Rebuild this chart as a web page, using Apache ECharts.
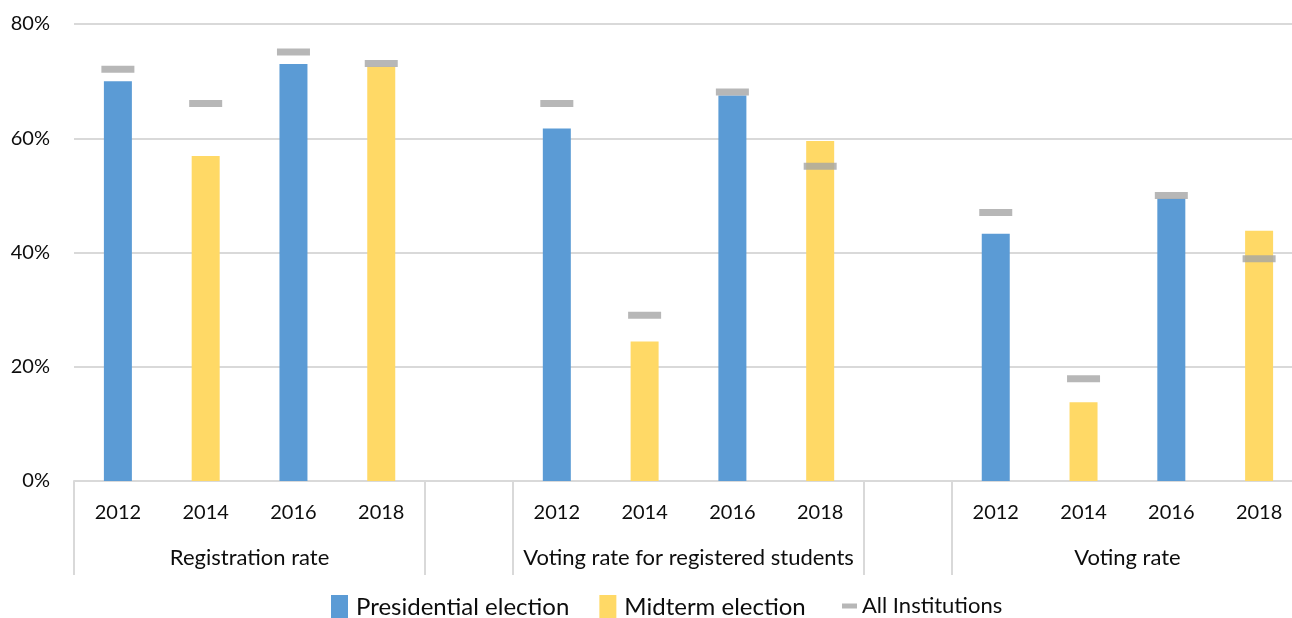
<!DOCTYPE html>
<html>
<head>
<meta charset="utf-8">
<script src="https://cdn.jsdelivr.net/npm/echarts@6/dist/echarts.min.js"></script>
<style>
html,body{margin:0;padding:0;background:#fff;overflow:hidden;width:1292px;height:618px;}
#chart{width:1303px;height:618px;}
</style>
</head>
<body>
<div id="chart"></div>
<script>
var years = ['2012','2014','2016','2018','','2012','2014','2016','2018','','2012','2014','2016','2018'];
var groupNames = ['Registration rate','Voting rate for registered students','Voting rate'];
var groupCenters = [2, 7, 12];
var groupSeparators = [0, 4, 5, 9, 10, 14];
var presidential = [70, null, 73, null, null, 61.7, null, 67.5, null, null, 43.3, null, 49.4, null];
var midterm = [null, 56.9, null, 72.5, null, null, 24.4, null, 59.5, null, null, 13.8, null, 43.8];
var allInstitutions = [72.1, 66.1, 75.1, 73.1, null, 66.1, 29.0, 68.1, 55.1, null, 47.0, 17.9, 50.0, 38.9];
var yTicks = [0, 20, 40, 60, 80];

var FONT = 'Lato';
var TXT = '#0d0d0d';
var chart = echarts.init(document.getElementById('chart'));
chart.setOption({
  animation: false,
  textStyle: {fontFamily: FONT},
  grid: {left: 74, top: 24, right: 0, bottom: 137, containLabel: false},
  legend: [
    {
      top: 595,
      left: 331,
      padding: 0,
      itemGap: 30,
      itemWidth: 17,
      itemHeight: 25,
      textStyle: {fontFamily: FONT, fontSize: 24, color: TXT, padding: [0, 0, 0, 3]},
      data: [
        {name: 'Presidential election', icon: 'rect'},
        {name: 'Midterm election', icon: 'rect'}
      ]
    },
    {
      top: 595,
      left: 842,
      padding: 0,
      itemWidth: 15,
      itemHeight: 5,
      textStyle: {fontFamily: FONT, fontSize: 22, color: TXT},
      data: [
        {name: 'All Institutions', icon: 'rect'}
      ]
    }
  ],
  xAxis: [
    {
      type: 'category',
      data: years,
      position: 'bottom',
      axisLine: {show: true, lineStyle: {color: '#d9d9d9', width: 2}},
      axisTick: {show: false},
      axisLabel: {fontFamily: FONT, fontSize: 20, color: TXT, margin: 22, interval: 0},
      splitLine: {show: false}
    },
    {
      type: 'value',
      min: 0,
      max: 14,
      position: 'bottom',
      axisLine: {show: false},
      axisTick: {show: true, customValues: groupSeparators, length: 94, lineStyle: {color: '#d9d9d9', width: 2}},
      axisLabel: {
        customValues: groupCenters,
        fontFamily: FONT, fontSize: 22, color: TXT, margin: 66,
        formatter: function (v) { var i = groupCenters.indexOf(v); return i >= 0 ? groupNames[i] : ''; }
      },
      splitLine: {show: false}
    }
  ],
  yAxis: {
    type: 'value',
    min: yTicks[0],
    max: yTicks[yTicks.length - 1],
    interval: 20,
    axisLine: {show: false},
    axisTick: {show: false},
    axisLabel: {fontFamily: FONT, fontSize: 20, color: TXT, margin: 24, formatter: '{value}%'},
    splitLine: {lineStyle: {color: '#d9d9d9', width: 2}}
  },
  series: [
    {name: 'Presidential election', type: 'bar', data: presidential, barWidth: 28, barGap: '-100%', itemStyle: {color: '#5B9BD5'}},
    {name: 'Midterm election', type: 'bar', data: midterm, barWidth: 28, barGap: '-100%', itemStyle: {color: '#FFD966'}},
    {name: 'All Institutions', type: 'scatter', data: allInstitutions, symbol: 'rect', symbolSize: [33, 7], itemStyle: {color: '#A5A5A5'}, z: 5}
  ]
});
</script>
</body>
</html>
